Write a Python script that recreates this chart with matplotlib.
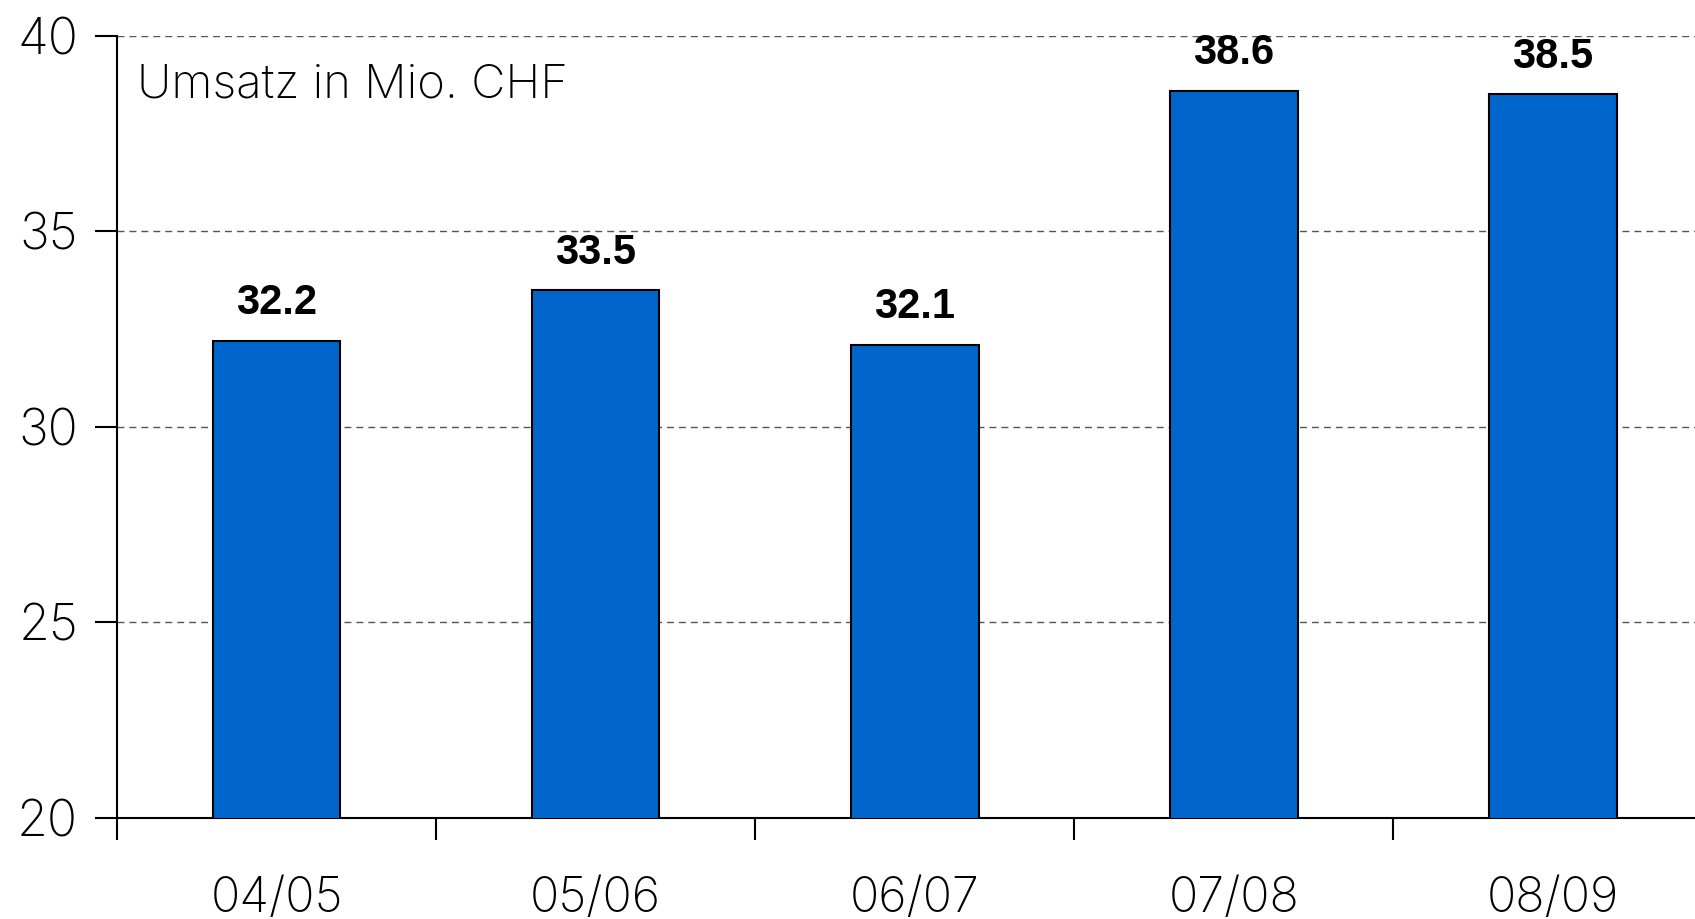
import matplotlib
matplotlib.use("Agg")
import matplotlib.pyplot as plt
import numpy as np

categories = ["04/05", "05/06", "06/07", "07/08", "08/09"]
values = [32.2, 33.5, 32.1, 38.6, 38.5]
yticks = [20, 25, 30, 35, 40]
title_text = "Umsatz in Mio. CHF"

light = dict(family=["Inter", "DejaVu Sans"], weight="light")

fig = plt.figure(figsize=(16.95, 9.19), dpi=100)
ax = fig.add_axes([0.069, 0.110, 0.931, 0.851])

x = np.arange(len(categories))
bars = ax.bar(x, values, width=0.4, color="#0066CC", edgecolor="black",
              linewidth=1.5, zorder=3)

for xi, v in zip(x, values):
    ax.annotate(f"{v:.1f}", (xi, v), xytext=(0, 19), textcoords="offset points",
                ha="center", va="baseline", fontsize=30, fontweight="bold",
                family=["Liberation Sans", "DejaVu Sans"])

ax.set_ylim(20, 40)
ax.set_xlim(-0.5, 4.445)
ax.set_yticks(yticks)
ax.set_yticklabels([str(t) for t in yticks], fontsize=36, **light)
ax.yaxis.grid(True, linestyle=(0, (5, 3.6)), color="#555555", linewidth=1.0, zorder=0)
ax.set_axisbelow(True)

ax.set_xticks(x)
ax.set_xticklabels(categories, fontsize=35, **light)
ax.set_xticks(np.arange(len(categories)) - 0.5, minor=True)
ax.tick_params(axis="x", which="major", length=0, pad=42)
ax.tick_params(axis="x", which="minor", length=16, width=1.5, direction="out")
ax.tick_params(axis="y", which="major", length=16, width=1.5, direction="out", pad=12)

for s in ["top", "right"]:
    ax.spines[s].set_visible(False)
for s in ["left", "bottom"]:
    ax.spines[s].set_linewidth(1.5)

ax.text(0.013, 0.965, title_text, transform=ax.transAxes, ha="left", va="top",
        fontsize=34, **light)

fig.savefig("out.png", dpi=100)
